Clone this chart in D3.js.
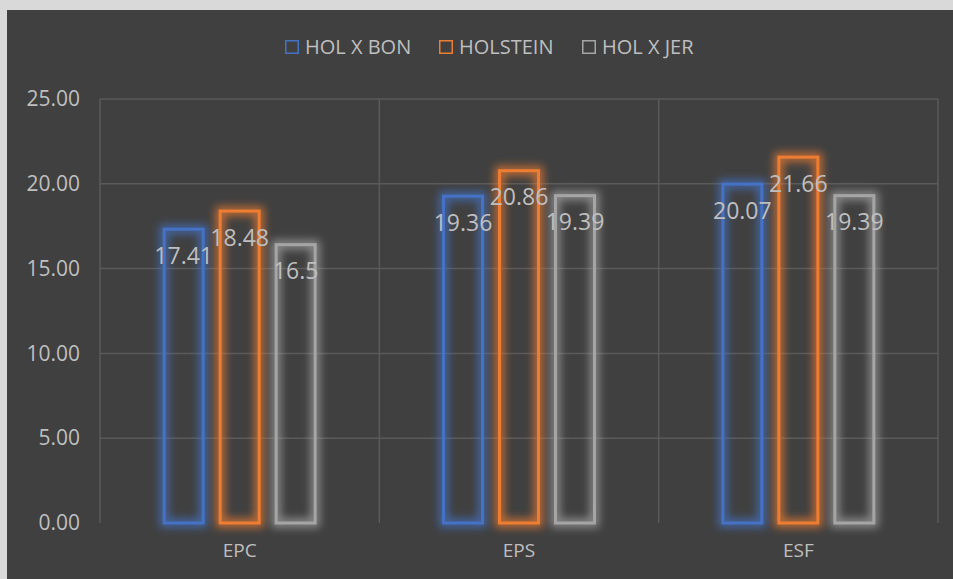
<!DOCTYPE html>
<html>
<head>
<meta charset="utf-8">
<script src="https://cdn.jsdelivr.net/npm/d3@7"></script>
<style>
  body { margin: 0; background: #fff; }
  svg text { font-family: "Open Sans", "Noto Sans", sans-serif; }
</style>
</head>
<body>
<div id="chart"></div>
<script>
const categories = ["EPC", "EPS", "ESF"];
const seriesNames = ["HOL X BON", "HOLSTEIN", "HOL X JER"];
const holXBon = [17.41, 19.36, 20.07];
const holstein = [18.48, 20.86, 21.66];
const holXJer = [16.5, 19.39, 19.39];
const labelText = [["17.41", "19.36", "20.07"], ["18.48", "20.86", "21.66"], ["16.5", "19.39", "19.39"]];
const yTicks = [0, 5, 10, 15, 20, 25];
const colors = ["#4472c4", "#ed7d31", "#a5a5a5"];

const W = 953, H = 579;
const plot = {left: 100, right: 938, top: 99, bottom: 523};

const svg = d3.select("#chart").append("svg")
  .attr("width", W).attr("height", H);

// frame
svg.append("rect").attr("width", W).attr("height", H).attr("fill", "#d9d9d9");
svg.append("rect").attr("x", 7).attr("y", 10).attr("width", W - 7).attr("height", H - 10).attr("fill", "#404040");

const defs = svg.append("defs");
const glow = defs.append("filter").attr("id", "glow")
  .attr("x", "-50%").attr("y", "-20%").attr("width", "200%").attr("height", "140%");
glow.append("feMorphology").attr("in", "SourceGraphic").attr("operator", "dilate").attr("radius", 3).attr("result", "d");
glow.append("feGaussianBlur").attr("in", "d").attr("stdDeviation", 4).attr("result", "b");
glow.append("feComponentTransfer").attr("in", "b").attr("result", "b2")
  .append("feFuncA").attr("type", "linear").attr("slope", 0.75);
const merge = glow.append("feMerge");
merge.append("feMergeNode").attr("in", "b2");
merge.append("feMergeNode").attr("in", "SourceGraphic");

const x0 = d3.scaleBand().domain(categories).range([plot.left, plot.right]).padding(0);
const x1 = d3.scaleBand().domain(seriesNames).range([0, 168]).paddingInner(0.25).paddingOuter(0.125);
const y = d3.scaleLinear().domain([0, 25]).range([plot.bottom, plot.top]);

// horizontal gridlines
svg.append("g").selectAll("line").data(yTicks.filter(t => t > 0)).enter().append("line")
  .attr("x1", plot.left).attr("x2", plot.right)
  .attr("y1", d => y(d)).attr("y2", d => y(d))
  .attr("stroke", "#5a5a5a").attr("stroke-width", 1.5);

// vertical category gridlines
const vx = categories.map(c => x0(c)).concat([plot.right]);
svg.append("g").selectAll("line").data(vx).enter().append("line")
  .attr("x1", d => d).attr("x2", d => d)
  .attr("y1", plot.top).attr("y2", plot.bottom)
  .attr("stroke", "#5a5a5a").attr("stroke-width", 1.5);

// y axis labels
const yAxis = d3.axisLeft(y).tickValues(yTicks).tickFormat(d3.format(".2f")).tickSize(0).tickPadding(20);
svg.append("g").attr("transform", `translate(${plot.left},0)`).call(yAxis)
  .call(g => g.select(".domain").remove())
  .selectAll("text").attr("fill", "#bfbfbf").attr("font-size", 21);

// x axis labels
const xAxis = d3.axisBottom(x0).tickSize(0).tickPadding(21);
svg.append("g").attr("transform", `translate(0,${plot.bottom})`).call(xAxis)
  .call(g => g.select(".domain").remove())
  .selectAll("text").attr("fill", "#bfbfbf").attr("font-size", 19);

const series = [holXBon, holstein, holXJer];
const off = (x0.bandwidth() - 168) / 2;

series.forEach((vals, si) => {
  const g = svg.append("g");
  g.selectAll("rect").data(vals).enter().append("rect")
    .attr("x", (d, i) => x0(categories[i]) + off + x1(seriesNames[si]) + 1.5)
    .attr("y", d => y(d) + 1.5)
    .attr("width", x1.bandwidth() - 3)
    .attr("height", d => y(0) - y(d) - 1.5)
    .attr("fill", "none")
    .attr("stroke", colors[si])
    .attr("stroke-width", 3)
    .attr("filter", "url(#glow)");
});

series.forEach((vals, si) => {
  svg.append("g").selectAll("text").data(vals).enter().append("text")
    .attr("x", (d, i) => x0(categories[i]) + off + x1(seriesNames[si]) + x1.bandwidth() / 2)
    .attr("y", d => y(d) + 28)
    .attr("dy", "0.35em")
    .attr("text-anchor", "middle")
    .attr("fill", "#bfbfbf")
    .attr("font-size", 23)
    .text((d, i) => labelText[si][i]);
});

// legend
const legendX = [285, 439, 582];
const leg = svg.append("g");
seriesNames.forEach((n, i) => {
  leg.append("rect").attr("x", legendX[i] + 0.75).attr("y", 40.75).attr("width", 12.5).attr("height", 12.5)
    .attr("fill", "none").attr("stroke", colors[i]).attr("stroke-width", 1.5);
  leg.append("text").attr("x", legendX[i] + 20).attr("y", 47).attr("dy", "0.35em")
    .attr("fill", "#bfbfbf").attr("font-size", 20).text(n);
});
</script>
</body>
</html>
